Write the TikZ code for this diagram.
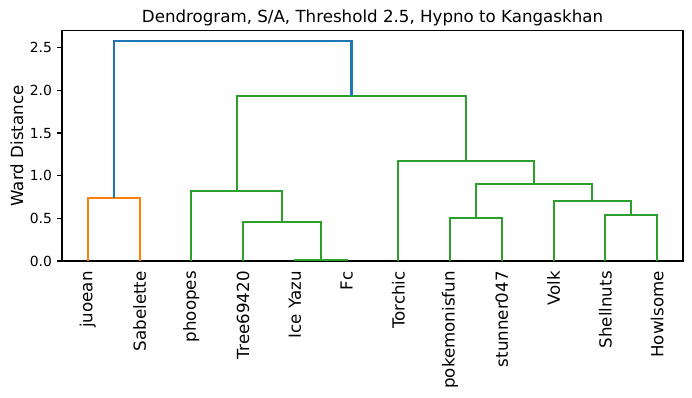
\documentclass[tikz,border=0pt]{standalone}
\usepackage{fontspec}
\setmainfont{DejaVu Sans}
\definecolor{cblue}{HTML}{1F77B4}
\definecolor{corange}{HTML}{FF7F0E}
\definecolor{cgreen}{HTML}{2CA02C}
\newcommand{\dpt}[3]{\coordinate (#1) at ({62+5.175*#2},{261-85.3*#3});}
\begin{document}
\begin{tikzpicture}[x=0.72pt,y=-0.72pt,
  link/.style={line width=1.5pt},
  leaflab/.style={font=\fontsize{12}{14}\selectfont, rotate=90, anchor=east, inner sep=0pt},
  ticklab/.style={font=\fontsize{10}{12}\selectfont, anchor=east, inner sep=0pt},
  frame/.style={line width=0.8pt, black}]
\useasboundingbox (0,0) rectangle (692,398);
% leaves
\dpt{l1}{5}{0} \dpt{l2}{15}{0} \dpt{l3}{25}{0} \dpt{l4}{35}{0}
\dpt{l5}{45}{0} \dpt{l6}{55}{0} \dpt{l7}{65}{0} \dpt{l8}{75}{0}
\dpt{l9}{85}{0} \dpt{l10}{95}{0} \dpt{l11}{105}{0} \dpt{l12}{115}{0}
% merges
\dpt{m1}{10}{0.742}
\dpt{m2}{50}{0.014}
\dpt{m3}{42.5}{0.453}
\dpt{m4}{33.75}{0.82}
\dpt{m5}{110}{0.539}
\dpt{m6}{102.5}{0.703}
\dpt{m7}{80}{0.504}
\dpt{m8}{91.25}{0.906}
\dpt{m9}{78.125}{1.176}
\dpt{m10}{55.9375}{1.938}
\dpt{m11}{32.97}{2.579}
% axes frame (bottom and sides under the links)
\coordinate (axbl) at (62,261);
\coordinate (axtr) at (683,30.7);
\draw[frame] (axbl) rectangle (axtr);
% links
\draw[link, corange] (l1) |- (m1) -| (l2);
\draw[link, cgreen] (l5) |- (m2) -| (l6);
\draw[link, cgreen] (l4) |- (m3) -| (m2);
\draw[link, cgreen] (l3) |- (m4) -| (m3);
\draw[link, cgreen] (l11) |- (m5) -| (l12);
\draw[link, cgreen] (l10) |- (m6) -| (m5);
\draw[link, cgreen] (l8) |- (m7) -| (l9);
\draw[link, cgreen] (m7) |- (m8) -| (m6);
\draw[link, cgreen] (l7) |- (m9) -| (m8);
\draw[link, cgreen] (m4) |- (m10) -| (m9);
\draw[link, cblue] (m1) |- (m11) -| (m10);
% y ticks
\foreach \v/\t in {0/0.0,0.5/0.5,1/1.0,1.5/1.5,2/2.0,2.5/2.5}{
  \draw[frame] ({62},{261-85.3*\v}) -- ({57.1},{261-85.3*\v});
  \node[ticklab] (yt\v) at ({52.2},{261-85.3*\v}) {\t};
}
% leaf labels
\foreach \n/\lab in {1/juoean,2/Sabelette,3/phoopes,4/Tree69420,5/Ice Yazu,6/Fc,7/Torchic,8/pokemonisfun,9/stunner047,10/Volk,11/Shellnuts,12/Howlsome}{
  \node[leaflab] (lab\n) at ({62+5.175*(10*\n-5)},271) {\lab};
}
% axis label and title
\node[font=\fontsize{12}{14}\selectfont, rotate=90, inner sep=0pt] (ylab) at (17,146) {Ward Distance};
\node[font=\fontsize{12}{14}\selectfont, anchor=base, inner sep=0pt] (title) at (372.5,22.4) {Dendrogram, S/A, Threshold 2.5, Hypno to Kangaskhan};
\end{tikzpicture}
\end{document}
